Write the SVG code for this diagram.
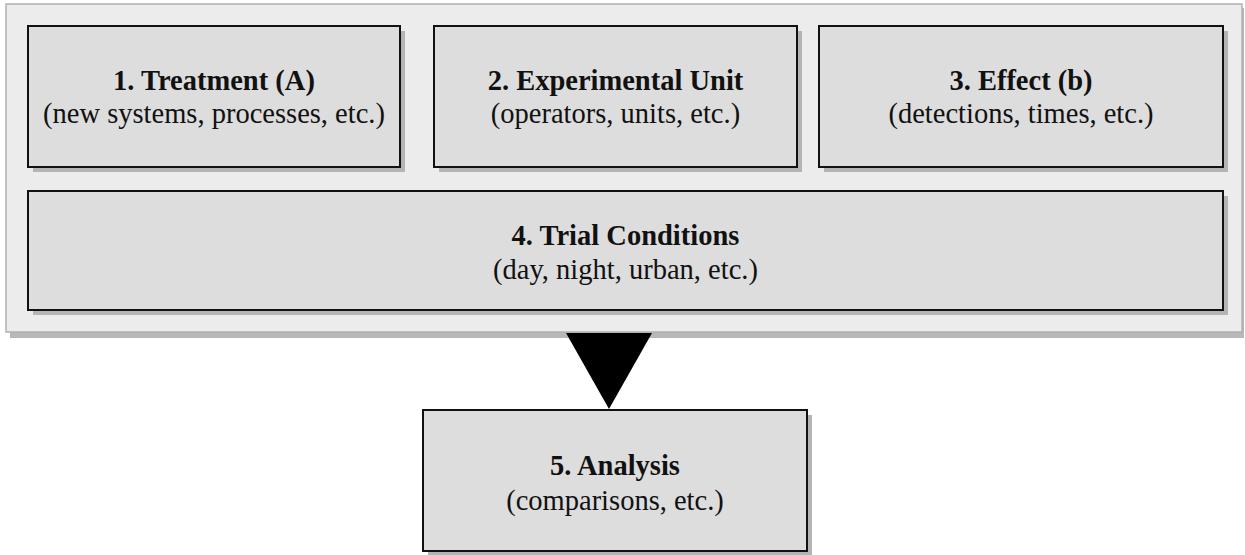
<svg xmlns="http://www.w3.org/2000/svg" width="1245" height="555" viewBox="0 0 1245 555">
<style>
.box{fill:#dddddd;stroke:#111;stroke-width:2}
.shadow{fill:#b4b4b4}
.t{font-family:"Liberation Serif",serif;font-size:28.5px;font-weight:bold;fill:#111;text-anchor:middle}
.s{font-family:"Liberation Serif",serif;font-size:28.5px;fill:#111;text-anchor:middle}
</style>
<rect width="1245" height="555" fill="#ffffff"/>
<g id="container">
<rect x="10" y="8" width="1234" height="330" fill="#b8b8b8"/>
<rect x="6" y="4" width="1236" height="328" fill="#ececec" stroke="#b0b0b0" stroke-width="1.5"/>
</g>
<g id="connectors">
<polygon points="566,333 652,333 609,409" fill="#000"/>
</g>
<g id="node1">
<rect class="shadow" x="33" y="31" width="372" height="141"/>
<rect class="box" x="28" y="26" width="372" height="141"/>
<text class="t" x="214" y="90">1. Treatment (A)</text>
<text class="s" x="214" y="123">(new systems, processes, etc.)</text>
</g>
<g id="node2">
<rect class="shadow" x="439" y="31" width="363" height="141"/>
<rect class="box" x="434" y="26" width="363" height="141"/>
<text class="t" x="615.5" y="90">2. Experimental Unit</text>
<text class="s" x="615.5" y="123">(operators, units, etc.)</text>
</g>
<g id="node3">
<rect class="shadow" x="824" y="31" width="404" height="141"/>
<rect class="box" x="819" y="26" width="404" height="141"/>
<text class="t" x="1021" y="90">3. Effect (b)</text>
<text class="s" x="1021" y="123">(detections, times, etc.)</text>
</g>
<g id="node4">
<rect class="shadow" x="33" y="196" width="1195" height="119"/>
<rect class="box" x="28" y="191" width="1195" height="119"/>
<text class="t" x="625.5" y="245">4. Trial Conditions</text>
<text class="s" x="625.5" y="279">(day, night, urban, etc.)</text>
</g>
<g id="node5">
<rect class="shadow" x="428" y="415" width="384" height="141"/>
<rect class="box" x="423" y="410" width="384" height="141"/>
<text class="t" x="615" y="475">5. Analysis</text>
<text class="s" x="615" y="510">(comparisons, etc.)</text>
</g>
</svg>
